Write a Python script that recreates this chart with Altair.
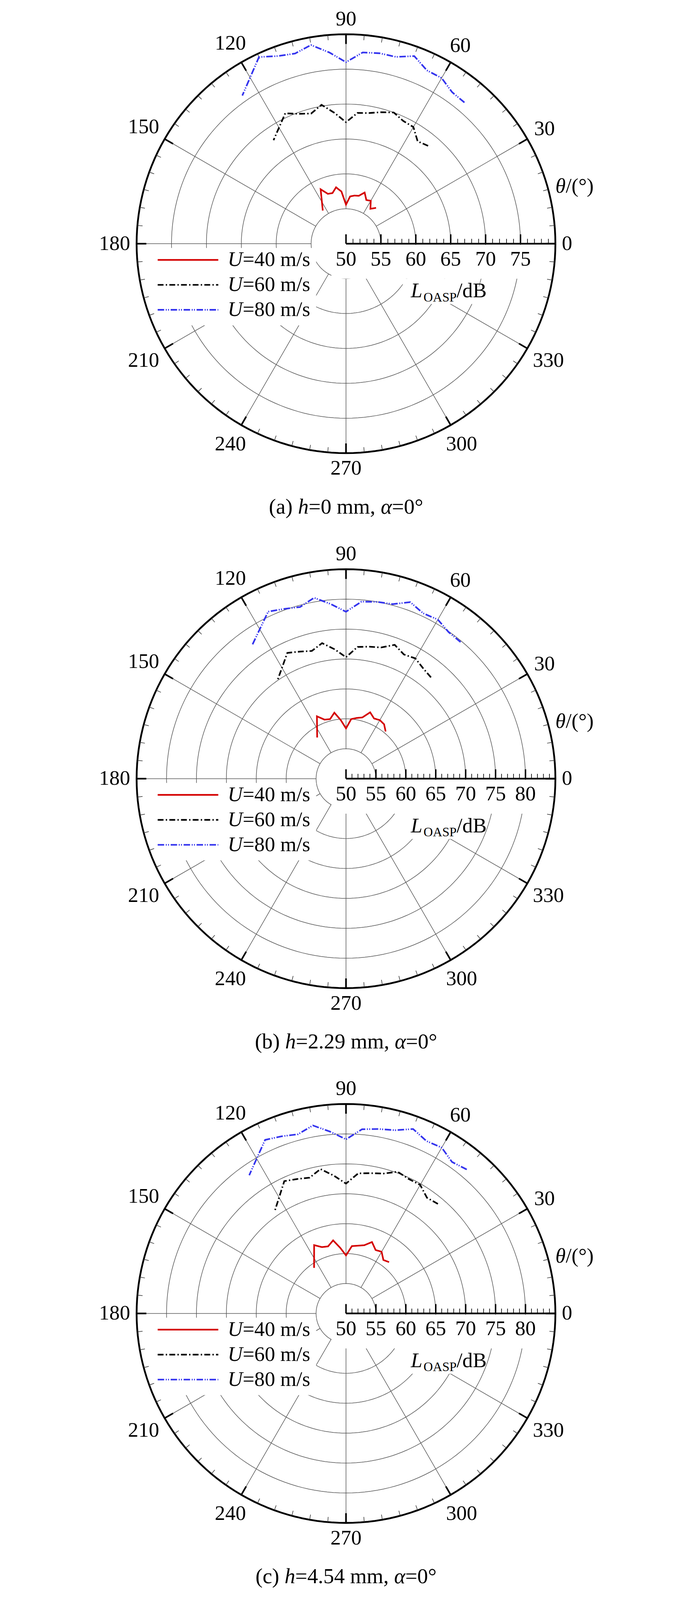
import altair as alt
import pandas as pd

# ---------------- data ----------------
ANGLES = [50, 55, 60, 65, 70, 75, 80, 85, 90, 95, 100, 105, 110, 115, 125]
SERIES = ["40", "60", "80"]

A_U40 = [56.7, 56.1, 57.1, 56.9, 57.8, 57.1, 57.0, 56.8, 55.6, 57.5, 58.2, 57.5, 57.6, 58.6, 55.8]
A_U60 = [68.3, 67.9, 69.3, 69.4, 70.0, 69.5, 69.0, 68.8, 67.4, 68.8, 70.2, 69.3, 69.8, 70.6, 68.1]
A_U80 = [76.4, 76.5, 77.4, 77.4, 78.6, 77.7, 77.7, 77.5, 76.0, 77.5, 78.9, 78.2, 78.6, 79.5, 75.9]

B_U40 = [60.3, 61.1, 61.3, 61.1, 61.8, 60.6, 60.3, 60.0, 58.4, 59.8, 61.2, 60.3, 60.5, 61.5, 58.4]
B_U60 = [72.1, 72.5, 73.2, 72.9, 73.8, 72.7, 72.4, 72.1, 70.3, 71.7, 73.0, 72.1, 72.6, 73.2, 70.0]
B_U80 = [79.8, 79.9, 80.7, 80.5, 81.4, 80.2, 80.0, 79.7, 77.9, 79.3, 80.7, 79.7, 80.2, 80.8, 77.3]

C_U40 = [61.2, 60.9, 61.9, 61.7, 62.7, 61.8, 61.5, 61.3, 59.7, 61.0, 62.4, 61.6, 61.8, 62.6, 59.3]
C_U60 = [73.9, 73.6, 74.8, 74.8, 75.2, 74.2, 73.8, 73.5, 71.7, 73.1, 74.5, 73.5, 73.9, 74.4, 70.8]
C_U80 = [81.4, 80.9, 82.0, 81.8, 82.8, 81.7, 81.3, 80.9, 79.1, 80.5, 81.9, 81.0, 81.5, 82.0, 78.2]

PANEL_DATA = [[A_U40, A_U60, A_U80], [B_U40, B_U60, B_U80], [C_U40, C_U60, C_U80]]
R_MIN = 50
R_MAX = [80, 85, 85]
ANGLE_TICKS = list(range(0, 360, 30))
CAPTION_TAG = ["(a) ", "(b) ", "(c) "]
CAPTION_H = ["0", "2.29", "4.54"]

# ---------------- style / layout ----------------
S = 0.83                 # overall drawing scale (so the three panels fit the photographed page)
FONT = "Liberation Serif"
FS = 64                  # font size in layout units
R_PX = 646               # outer radius in layout units
W_PX = 1756
HALF_W = (W_PX / 2) / S
Y_TOP = [742, 721, 721]
Y_BOTTOM = [-925, -925, -862]
GRID = "#585858"

COLORS = ["#d40000", "#000000", "#3333ee"]
DASHES = [[1, 0], [18, 7, 4, 7], [20, 5, 3, 4, 3, 5]]

CW = {' ': 0.25, '(': 0.333, ')': 0.333, 'a': 0.444, 'b': 0.5, 'c': 0.444, 'h': 0.5,
      '=': 0.564, '.': 0.25, 'm': 0.778, ',': 0.25, '°': 0.4, '/': 0.278, 's': 0.389,
      'd': 0.5, 'B': 0.667, 'O': 0.722, 'A': 0.722, 'S': 0.556, 'P': 0.556, 'U': 0.722,
      'L': 0.611, 'θ': 0.5, 'α': 0.52}


def tw(s, fs):
    return sum(CW.get(ch, 0.5) for ch in s) * fs


cscale = alt.Scale(domain=SERIES, range=COLORS)
dscale = alt.Scale(domain=SERIES, range=[[d * S for d in dd] for dd in DASHES])


def make_panel(i):
    rmax = R_MAX[i]
    k = R_PX / (rmax - R_MIN)
    ytop = Y_TOP[i]
    ybot = Y_BOTTOM[i]
    height = round((ytop - ybot) * S)
    xs = alt.Scale(domain=[-HALF_W, HALF_W])
    ys = alt.Scale(domain=[ytop - height / S, ytop])

    def X(f="x"):
        return alt.X(f"{f}:Q", scale=xs, axis=None)

    def Y(f="y"):
        return alt.Y(f"{f}:Q", scale=ys, axis=None)

    layers = []

    # grid rings
    ring_levels = list(range(R_MIN + 5, rmax, 5))
    steps = list(range(0, 361, 2))
    rings = pd.DataFrame([(lv, a) for lv in ring_levels for a in steps], columns=["lv", "a"])
    layers.append(
        alt.Chart(rings).transform_calculate(
            x=f"(datum.lv-{R_MIN})*{k}*cos(datum.a*PI/180)",
            y=f"(datum.lv-{R_MIN})*{k}*sin(datum.a*PI/180)",
        ).mark_line(color=GRID, strokeWidth=1.8 * S).encode(
            x=X(), y=Y(), detail="lv:N", order="a:Q")
    )

    # spokes
    spokes = pd.DataFrame({"a": [a for a in ANGLE_TICKS if a != 0]})
    layers.append(
        alt.Chart(spokes).transform_calculate(
            x=f"{5 * k}*cos(datum.a*PI/180)",
            y=f"{5 * k}*sin(datum.a*PI/180)",
            x2=f"{R_PX}*cos(datum.a*PI/180)",
            y2=f"{R_PX}*sin(datum.a*PI/180)",
        ).mark_rule(color=GRID, strokeWidth=1.8 * S).encode(
            x=X(), y=Y(), x2="x2:Q", y2="y2:Q")
    )

    # white backgrounds behind legend and axis texts
    boxes = pd.DataFrame({"x": [-660, -45, 175], "x2": [-92, 625, 410],
                          "y": [-13, -4, -108], "y2": [-252, -108, -186]})
    layers.append(
        alt.Chart(boxes).mark_rect(color="white").encode(
            x=X(), x2="x2:Q", y=Y(), y2="y2:Q")
    )

    # outer circle
    outer = pd.DataFrame({"a": steps})
    layers.append(
        alt.Chart(outer).transform_calculate(
            x=f"{R_PX}*cos(datum.a*PI/180)", y=f"{R_PX}*sin(datum.a*PI/180)"
        ).mark_line(color="black", strokeWidth=5.5 * S).encode(x=X(), y=Y(), order="a:Q")
    )

    # angular ticks on the outer circle
    tk = pd.DataFrame({"a": list(range(0, 360, 5))})
    tk["major"] = tk["a"] % 30 == 0
    for major, ln, sw, col in [(False, 16, 1.8, "#333"), (True, 30, 5, "black")]:
        layers.append(
            alt.Chart(tk[tk["major"] == major]).transform_calculate(
                x=f"{R_PX}*cos(datum.a*PI/180)", y=f"{R_PX}*sin(datum.a*PI/180)",
                x2=f"{R_PX - ln}*cos(datum.a*PI/180)", y2=f"{R_PX - ln}*sin(datum.a*PI/180)",
            ).mark_rule(color=col, strokeWidth=sw * S).encode(x=X(), y=Y(), x2="x2:Q", y2="y2:Q")
        )

    # radial (L_OASP) axis
    ax = pd.DataFrame({"lv": [R_MIN], "lv2": [rmax]})
    layers.append(
        alt.Chart(ax).transform_calculate(
            x=f"(datum.lv-{R_MIN})*{k}", x2=f"(datum.lv2-{R_MIN})*{k}", y="0"
        ).mark_rule(color="black", strokeWidth=5 * S).encode(x=X(), x2="x2:Q", y=Y())
    )
    maj = pd.DataFrame({"lv": list(range(R_MIN, rmax, 5))})
    mnr = pd.DataFrame({"lv": [v for v in range(R_MIN + 1, rmax) if v % 5 != 0]})
    for df, ln, sw in [(mnr, 15, 2), (maj, 29, 4.5)]:
        layers.append(
            alt.Chart(df).transform_calculate(
                x=f"(datum.lv-{R_MIN})*{k}", y="0", y2=str(ln)
            ).mark_rule(color="black", strokeWidth=sw * S).encode(x=X(), y=Y(), y2="y2:Q")
        )

    # data curves
    rows = []
    for s, vals in zip(SERIES, PANEL_DATA[i]):
        for a, v in zip(ANGLES, vals):
            rows.append({"series": s, "angle": a, "L": v})
    cur = pd.DataFrame(rows)
    layers.append(
        alt.Chart(cur).transform_calculate(
            x=f"(datum.L-{R_MIN})*{k}*cos(datum.angle*PI/180)",
            y=f"(datum.L-{R_MIN})*{k}*sin(datum.angle*PI/180)",
        ).mark_line(strokeWidth=5 * S).encode(
            x=X(), y=Y(),
            color=alt.Color("series:N", scale=cscale, legend=None),
            strokeDash=alt.StrokeDash("series:N", scale=dscale, legend=None),
            order="angle:Q")
    )

    # angle labels
    al = pd.DataFrame({"a": ANGLE_TICKS, "label": [str(a) for a in ANGLE_TICKS]})
    layers.append(
        alt.Chart(al).transform_calculate(
            c="cos(datum.a*PI/180)", s="sin(datum.a*PI/180)"
        ).transform_calculate(
            r=f"{R_PX}+20+abs(datum.c)*length(datum.label)*{FS * 0.25}+abs(datum.s)*27"
        ).transform_calculate(
            x="datum.r*datum.c", y="datum.r*datum.s"
        ).mark_text(font=FONT, fontSize=FS * S, align="center", baseline="middle",
                    color="black").encode(x=X(), y=Y(), text="label:N")
    )

    # radial tick labels
    tl = pd.DataFrame({"lv": list(range(R_MIN, rmax, 5))})
    tl["label"] = tl["lv"].astype(str)
    layers.append(
        alt.Chart(tl).transform_calculate(
            x=f"(datum.lv-{R_MIN})*{k}", y="-48"
        ).mark_text(font=FONT, fontSize=FS * S, align="center", baseline="middle",
                    color="black").encode(x=X(), y=Y(), text="label:N")
    )

    # legend samples
    leg = pd.DataFrame({"series": SERIES, "row": [0, 1, 2]})
    layers.append(
        alt.Chart(leg).transform_calculate(
            x="-581", x2="-394", y="-50-77*datum.row"
        ).mark_rule(strokeWidth=5 * S).encode(
            x=X(), x2="x2:Q", y=Y(),
            color=alt.Color("series:N", scale=cscale, legend=None),
            strokeDash=alt.StrokeDash("series:N", scale=dscale, legend=None))
    )

    # mixed-style texts (italic symbols)
    pieces = []

    def add_run(x0, y, parts):
        x = x0
        for txt, ital, fs, dy in parts:
            pieces.append({"x": x, "y": y + dy, "text": txt, "italic": ital, "fs": fs * S})
            x += tw(txt, fs)

    for r, s in enumerate(SERIES):
        add_run(-365, -50 - 77 * r, [("U", True, FS, 0), (f"={s} m/s", False, FS, 0)])
    add_run(200, -146, [("L", True, FS, 0), ("OASP", False, 40, -20), ("/dB", False, FS, 0)])
    add_run(646, 177, [("θ", True, FS, 0), ("/(°)", False, FS, 0)])
    cfs = 66
    cap = [(CAPTION_TAG[i], False, cfs, 0), ("h", True, cfs, 0),
           (f"={CAPTION_H[i]} mm, ", False, cfs, 0), ("α", True, cfs, 0), ("=0°", False, cfs, 0)]
    total = sum(tw(t, f) for t, _, f, _ in cap)
    add_run(-total / 2, -813, cap)
    pdf = pd.DataFrame(pieces)
    for ital in [False, True]:
        layers.append(
            alt.Chart(pdf[pdf["italic"] == ital]).mark_text(
                font=FONT, fontStyle="italic" if ital else "normal",
                align="left", baseline="middle", color="black").encode(
                x=X(), y=Y(), text="text:N", size=alt.Size("fs:Q", scale=None))
        )

    return alt.layer(*layers).properties(width=W_PX, height=height)


chart = alt.vconcat(make_panel(0), make_panel(1), make_panel(2), spacing=0).properties(
    padding={"left": 0, "top": 0, "right": 0, "bottom": 0}
).configure_view(stroke=None)

chart.save("out.html", embed_options={"renderer": "svg", "actions": False})
